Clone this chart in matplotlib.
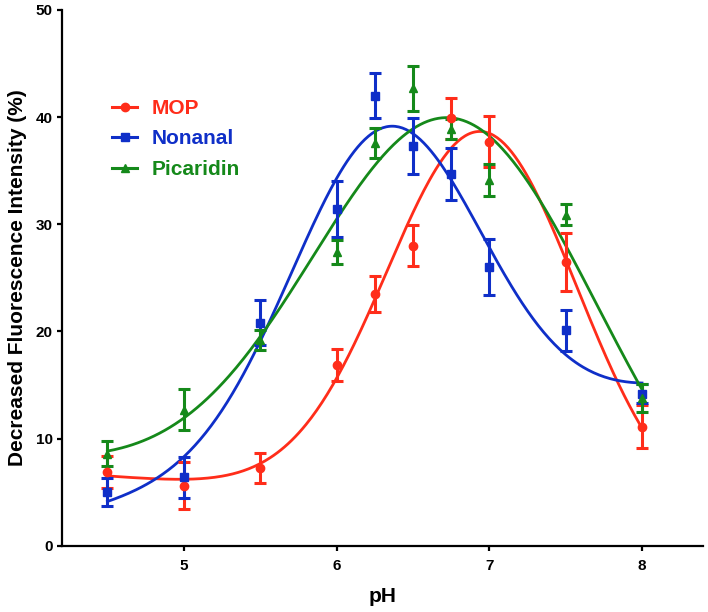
import numpy as np
import matplotlib
matplotlib.use("Agg")
import matplotlib.pyplot as plt
from matplotlib.lines import Line2D

plt.rcParams['font.family'] = ['Liberation Sans', 'DejaVu Sans']
plt.rcParams['font.weight'] = 'bold'

ph = [4.5, 5.0, 5.5, 6.0, 6.25, 6.5, 6.75, 7.0, 7.5, 8.0]

mop = [6.9, 5.6, 7.3, 16.9, 23.5, 28.0, 39.9, 37.7, 26.5, 11.1]
mop_err = [1.5, 2.2, 1.4, 1.5, 1.7, 1.9, 1.9, 2.4, 2.7, 2.0]

nonanal = [5.0, 6.4, 20.8, 31.4, 42.0, 37.3, 34.7, 26.0, 20.1, 14.2]
nonanal_err = [1.3, 1.9, 2.1, 2.6, 2.1, 2.6, 2.4, 2.6, 1.9, 0.9]

picaridin = [8.6, 12.7, 19.2, 27.4, 37.6, 42.7, 38.9, 34.1, 30.9, 13.8]
picaridin_err = [1.2, 1.9, 0.9, 1.1, 1.4, 2.1, 0.9, 1.5, 1.0, 1.3]

names = ['MOP', 'Nonanal', 'Picaridin']
colors = ['#ff2d1a', '#0f2fc8', '#15891a']
markers = ['o', 's', '^']
series = [mop, nonanal, picaridin]
errors = [mop_err, nonanal_err, picaridin_err]


def gauss_fit(x, y):
    """Least-squares fit of a Gaussian peak on a linear baseline."""
    best = None
    for c in np.linspace(5.5, 7.5, 161):
        for s in np.linspace(0.2, 1.4, 121):
            A = np.column_stack([np.ones_like(x), x,
                                 np.exp(-(x - c) ** 2 / (2 * s * s))])
            coef, *_ = np.linalg.lstsq(A, y, rcond=None)
            sse = np.sum((A @ coef - y) ** 2)
            if best is None or sse < best[0]:
                best = (sse, c, s, coef)
    _, c, s, coef = best
    return lambda t: coef[0] + coef[1] * t + coef[2] * np.exp(-(t - c) ** 2 / (2 * s * s))


fig = plt.figure(figsize=(7.08, 6.12), dpi=100)
ax = fig.add_axes([0.0871, 0.1083, 0.906, 0.8754])

x = np.array(ph)
xs = np.linspace(4.5, 8.0, 300)
for name, c, m, y, e in zip(names, colors, markers, series, errors):
    f = gauss_fit(x, np.array(y))
    ax.plot(xs, f(xs), color=c, lw=2.0, zorder=2)
    ax.errorbar(x, y, yerr=e, fmt=m, color=c, ms=6, elinewidth=2.2,
                capsize=4.6, capthick=2.2, zorder=3)

ax.set_xlim(4.2, 8.4)
ax.set_ylim(0, 50)
ax.set_xticks([5, 6, 7, 8])
ax.set_yticks([0, 10, 20, 30, 40, 50])
for s in ['top', 'right']:
    ax.spines[s].set_visible(False)
for s in ['left', 'bottom']:
    ax.spines[s].set_linewidth(1.6)
ax.tick_params(width=1.6, length=3.5, labelsize=11)
ax.tick_params(axis='x', pad=6)
ax.tick_params(axis='y', pad=3)
for lab in ax.get_xticklabels() + ax.get_yticklabels():
    lab.set_fontweight('bold')
ax.set_xlabel('pH', fontsize=15, fontweight='bold', labelpad=10)
ax.set_ylabel('Decreased Fluorescence Intensity (%)', fontsize=15,
              fontweight='bold', labelpad=6)

handles = [Line2D([0], [0], color=c, marker=m, ms=6, lw=2.2)
           for c, m in zip(colors, markers)]
leg = ax.legend(handles, names, loc='upper left', bbox_to_anchor=(0.05, 0.869),
                frameon=False, handlelength=1.2, handletextpad=0.67,
                labelspacing=0.55, prop={'weight': 'bold', 'size': 15})
for t, c in zip(leg.get_texts(), colors):
    t.set_color(c)

fig.savefig('out.png', dpi=100)
